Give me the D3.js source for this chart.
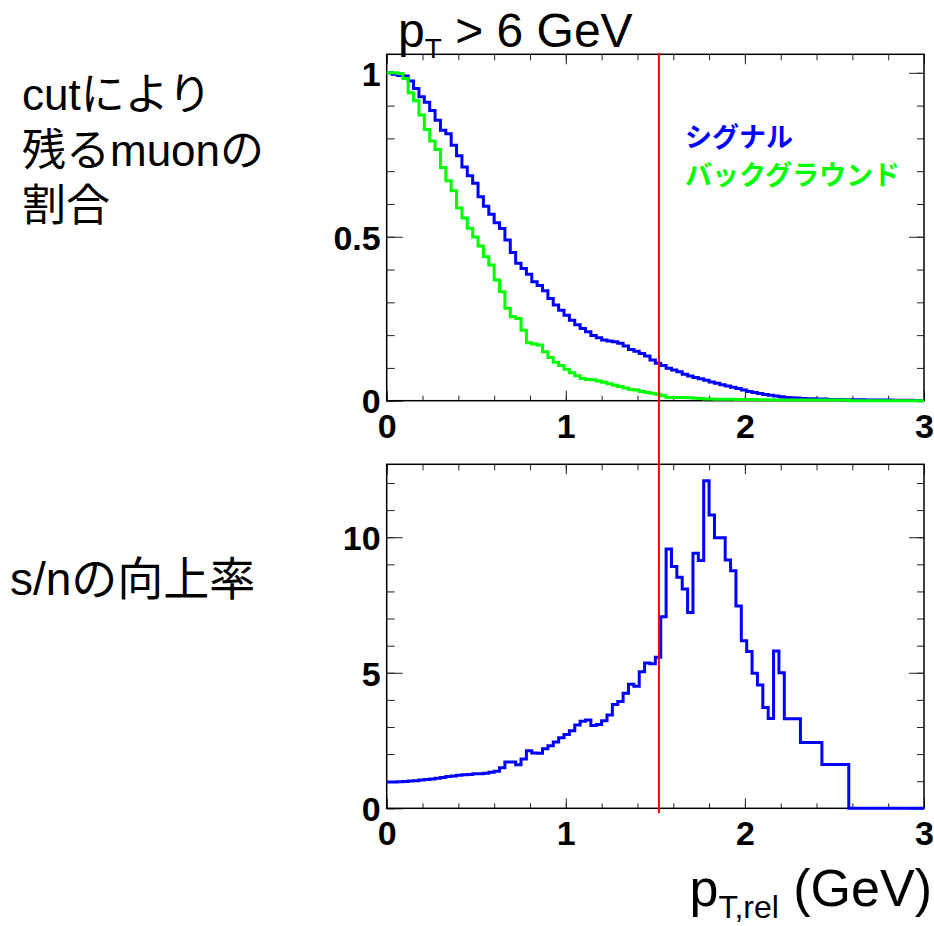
<!DOCTYPE html>
<html>
<head>
<meta charset="utf-8">
<script src="https://cdn.jsdelivr.net/npm/d3@7/dist/d3.min.js"></script>
<style>
  html, body { margin: 0; padding: 0; background: #fff; }
  svg { display: block; }
</style>
</head>
<body>
<svg id="chart" width="934" height="926"></svg>
<script>
// ---- data -------------------------------------------------------------
// histogram binning of p_T,rel (GeV): 100 bins from 0 to 3
const xRange = [0, 3];
const nBins = 100;

// fraction of muons surviving a p_T,rel cut (signal)
const signalFrac = [
  1.000, 0.996, 0.992, 0.990, 0.975, 0.952, 0.927, 0.910, 0.885, 0.855,
  0.825, 0.814, 0.779, 0.747, 0.713, 0.686, 0.663, 0.622, 0.593, 0.569,
  0.543, 0.525, 0.490, 0.452, 0.419, 0.403, 0.386, 0.363, 0.351, 0.335,
  0.312, 0.292, 0.276, 0.261, 0.245, 0.232, 0.220, 0.210, 0.199, 0.192,
  0.185, 0.182, 0.180, 0.175, 0.167, 0.156, 0.151, 0.144, 0.136, 0.124,
  0.114, 0.107, 0.099, 0.094, 0.088, 0.081, 0.075, 0.071, 0.067, 0.062,
  0.057, 0.053, 0.049, 0.045, 0.041, 0.037, 0.033, 0.028, 0.025, 0.022,
  0.019, 0.017, 0.014, 0.012, 0.010, 0.009, 0.008, 0.007, 0.006, 0.006,
  0.005, 0.005, 0.004, 0.004, 0.004, 0.003, 0.003, 0.003, 0.003, 0.002,
  0.002, 0.002, 0.002, 0.002, 0.001, 0.001, 0.001, 0.001, 0.0005, 0.000
];

// fraction of muons surviving a p_T,rel cut (background)
const backgroundFrac = [
  1.000, 1.000, 0.998, 0.983, 0.939, 0.915, 0.871, 0.827, 0.792, 0.766,
  0.711, 0.671, 0.640, 0.588, 0.557, 0.526, 0.499, 0.472, 0.439, 0.414,
  0.368, 0.332, 0.282, 0.256, 0.251, 0.215, 0.177, 0.173, 0.170, 0.149,
  0.132, 0.117, 0.107, 0.096, 0.085, 0.076, 0.068, 0.065, 0.064, 0.060,
  0.056, 0.052, 0.047, 0.043, 0.039, 0.034, 0.033, 0.028, 0.025, 0.023,
  0.020, 0.015, 0.0100, 0.0098, 0.0096, 0.0094, 0.0090, 0.0072, 0.0070, 0.0052,
  0.0050, 0.0048, 0.0046, 0.0044, 0.0042, 0.0040, 0.0038, 0.0036, 0.0034, 0.0032,
  0.0030, 0.0030, 0.0024, 0.0024, 0.0024, 0.0023, 0.0022, 0.0022, 0.0020, 0.0020,
  0.0020, 0.0019, 0.0018, 0.0018, 0.0018, 0.0018, 0, 0, 0, 0,
  0, 0, 0, 0, 0, 0, 0, 0, 0, 0
];

// improvement of s/n for each cut value
const snGain = [
  0.97, 0.97, 0.98, 0.99, 1.01, 1.02, 1.04, 1.06, 1.08, 1.11,
  1.14, 1.17, 1.19, 1.22, 1.24, 1.25, 1.27, 1.27, 1.29, 1.33,
  1.37, 1.50, 1.71, 1.71, 1.61, 1.82, 2.12, 2.04, 2.03, 2.20,
  2.31, 2.45, 2.60, 2.72, 2.86, 3.07, 3.21, 3.26, 3.05, 3.09,
  3.23, 3.44, 3.83, 3.94, 4.24, 4.58, 4.50, 5.04, 5.36, 5.33,
  5.57, 7.07, 9.57, 8.92, 8.52, 8.09, 7.22, 9.41, 9.14, 12.08,
  10.82, 9.98, 9.98, 9.16, 8.76, 7.46, 6.18, 5.78, 4.98, 4.55,
  3.72, 3.31, 5.80, 5.00, 3.30, 3.30, 3.30, 2.43, 2.43, 2.43,
  2.43, 1.62, 1.62, 1.62, 1.62, 1.62, 0, 0, 0, 0,
  0, 0, 0, 0, 0, 0, 0, 0, 0, 0
];

const cutValue = 1.52;

const xTickValues = [0, 1, 2, 3];
const xTickLabels = ["0", "1", "2", "3"];
const xMinorStep = 0.2;

const topYDomain = [0, 1.0565];
const topYTickValues = [0, 0.5, 1];
const topYTickLabels = ["0", "0.5", "1"];
const topYMinorStep = 0.1;

const botYDomain = [0, 12.69];
const botYTickValues = [0, 5, 10];
const botYTickLabels = ["0", "5", "10"];
const botYMinorStep = 1;

const seriesNames = ["シグナル", "バックグラウンド"];
const seriesColors = ["#0000ff", "#00ff00"];

const upperDescription = ["cutにより", "残るmuonの", "割合"];
const lowerDescription = "s/nの向上率";

// ---- layout -------------------------------------------------------------
const frameLeft = 386.7, frameRight = 924;
const topPanel = { top: 54.3, bottom: 400.7 };
const botPanel = { top: 464.3, bottom: 808.3 };

const latin = "'Liberation Sans', Arial, Helvetica, sans-serif";
const cjk = "'Noto Sans CJK JP', 'Noto Sans CJK SC', sans-serif";
const mixed = "'Liberation Sans', 'Noto Sans CJK JP', sans-serif";

const svg = d3.select("#chart");

const x = d3.scaleLinear().domain(xRange).range([frameLeft, frameRight]);
const yTop = d3.scaleLinear().domain(topYDomain).range([topPanel.bottom, topPanel.top]);
const yBot = d3.scaleLinear().domain(botYDomain).range([botPanel.bottom, botPanel.top]);

const binEdge = i => xRange[0] + (xRange[1] - xRange[0]) * i / nBins;

function minorTicks(lo, hi, step) {
  const n = Math.round((hi - lo) / step);
  const out = [];
  for (let i = 0; i <= n; i++) out.push(+(lo + i * step).toFixed(6));
  return out;
}

function drawFrame(panel, yScale, yMajor, yLabels, yMinorStepV, yMax) {
  const g = svg.append("g");
  const xMinor = minorTicks(xRange[0], xRange[1], xMinorStep);
  const yMinor = minorTicks(0, Math.floor(yMax / yMinorStepV) * yMinorStepV, yMinorStepV);

  const tickStyle = sel => {
    sel.select(".domain").remove();
    sel.selectAll(".tick line").attr("stroke", "#222").attr("stroke-width", 1);
  };

  // bottom edge: minor + major ticks with labels
  g.append("g").attr("transform", `translate(0,${panel.bottom})`)
    .call(d3.axisBottom(x).tickValues(xMinor).tickSizeInner(-5).tickSizeOuter(0).tickFormat(""))
    .call(tickStyle);
  g.append("g").attr("transform", `translate(0,${panel.bottom})`)
    .call(d3.axisBottom(x).tickValues(xTickValues).tickSizeInner(-10).tickSizeOuter(0)
      .tickPadding(13).tickFormat((d, i) => xTickLabels[i]))
    .call(tickStyle)
    .call(s => s.selectAll("text").attr("font-family", latin).attr("font-weight", "bold")
      .attr("font-size", 34).attr("fill", "#000"));

  // top edge
  g.append("g").attr("transform", `translate(0,${panel.top})`)
    .call(d3.axisTop(x).tickValues(xMinor).tickSizeInner(-6).tickSizeOuter(0).tickFormat(""))
    .call(tickStyle);
  g.append("g").attr("transform", `translate(0,${panel.top})`)
    .call(d3.axisTop(x).tickValues(xTickValues).tickSizeInner(-10).tickSizeOuter(0).tickFormat(""))
    .call(tickStyle);

  // left edge
  g.append("g").attr("transform", `translate(${frameLeft},0)`)
    .call(d3.axisLeft(yScale).tickValues(yMinor).tickSizeInner(-8).tickSizeOuter(0).tickFormat(""))
    .call(tickStyle);
  g.append("g").attr("transform", `translate(${frameLeft},0)`)
    .call(d3.axisLeft(yScale).tickValues(yMajor).tickSizeInner(-16).tickSizeOuter(0)
      .tickPadding(6).tickFormat((d, i) => yLabels[i]))
    .call(tickStyle)
    .call(s => s.selectAll("text").attr("font-family", latin).attr("font-weight", "bold")
      .attr("font-size", 34).attr("fill", "#000").attr("dy", "0.36em"));

  // right edge
  g.append("g").attr("transform", `translate(${frameRight},0)`)
    .call(d3.axisRight(yScale).tickValues(yMinor).tickSizeInner(-7).tickSizeOuter(0).tickFormat(""))
    .call(tickStyle);
  g.append("g").attr("transform", `translate(${frameRight},0)`)
    .call(d3.axisRight(yScale).tickValues(yMajor).tickSizeInner(-15).tickSizeOuter(0).tickFormat(""))
    .call(tickStyle);

  g.append("rect")
    .attr("x", frameLeft).attr("y", panel.top)
    .attr("width", frameRight - frameLeft).attr("height", panel.bottom - panel.top)
    .attr("fill", "none").attr("stroke", "#000").attr("stroke-width", 1.5);
  return g;
}

function histPath(values, yScale) {
  const pts = values.map((v, i) => [binEdge(i), v]);
  pts.push([binEdge(nBins), values[nBins - 1]]);
  return d3.line()
    .x(d => x(d[0]))
    .y(d => yScale(d[1]))
    .curve(d3.curveStepAfter)(pts);
}

// ---- upper panel: surviving fraction --------------------------------------
drawFrame(topPanel, yTop, topYTickValues, topYTickLabels, topYMinorStep, topYDomain[1]);

svg.append("path").attr("d", histPath(signalFrac, yTop))
  .attr("fill", "none").attr("stroke", seriesColors[0]).attr("stroke-width", 3);
svg.append("path").attr("d", histPath(backgroundFrac, yTop))
  .attr("fill", "none").attr("stroke", seriesColors[1]).attr("stroke-width", 3);

// ---- lower panel: s/n improvement ----------------------------------------
drawFrame(botPanel, yBot, botYTickValues, botYTickLabels, botYMinorStep, botYDomain[1]);

svg.append("path").attr("d", histPath(snGain, yBot))
  .attr("fill", "none").attr("stroke", seriesColors[0]).attr("stroke-width", 3);

// ---- cut line across both panels ----------------------------------------
svg.append("line")
  .attr("x1", x(cutValue)).attr("x2", x(cutValue))
  .attr("y1", topPanel.top - 1).attr("y2", botPanel.bottom + 5)
  .attr("stroke", "#ff0000").attr("stroke-width", 2);

// ---- legend ---------------------------------------------------------------
svg.append("text").attr("x", 685).attr("y", 135)
  .attr("dominant-baseline", "central")
  .attr("font-family", cjk).attr("font-weight", "bold").attr("font-size", 27)
  .attr("fill", seriesColors[0]).text(seriesNames[0]);
svg.append("text").attr("x", 685).attr("y", 173)
  .attr("dominant-baseline", "central")
  .attr("font-family", cjk).attr("font-weight", "bold").attr("font-size", 27)
  .attr("fill", seriesColors[1]).text(seriesNames[1]);

// ---- titles ---------------------------------------------------------------
const title = svg.append("text").attr("x", 398).attr("y", 47)
  .attr("font-family", latin).attr("font-size", 48).attr("fill", "#000");
title.append("tspan").text("p");
title.append("tspan").attr("font-size", 28).attr("dy", 11).text("T");
title.append("tspan").attr("dy", -11).text(" > 6 GeV");

const xTitle = svg.append("text").attr("x", 932).attr("y", 906)
  .attr("text-anchor", "end")
  .attr("font-family", latin).attr("font-size", 52).attr("fill", "#000");
xTitle.append("tspan").text("p");
xTitle.append("tspan").attr("font-size", 32).attr("dy", 12).text("T,rel");
xTitle.append("tspan").attr("dy", -12).text(" (GeV)");

// ---- panel descriptions on the left ---------------------------------------
const upperText = svg.append("text")
  .attr("font-family", mixed).attr("font-size", 44).attr("fill", "#000");
upperText.selectAll("tspan").data(upperDescription).enter().append("tspan")
  .attr("x", 22).attr("y", (d, i) => 110 + i * 55.5)
  .text(d => d);

svg.append("text").attr("x", 10).attr("y", 595)
  .attr("font-family", mixed).attr("font-size", 46).attr("fill", "#000")
  .text(lowerDescription);
</script>
</body>
</html>
